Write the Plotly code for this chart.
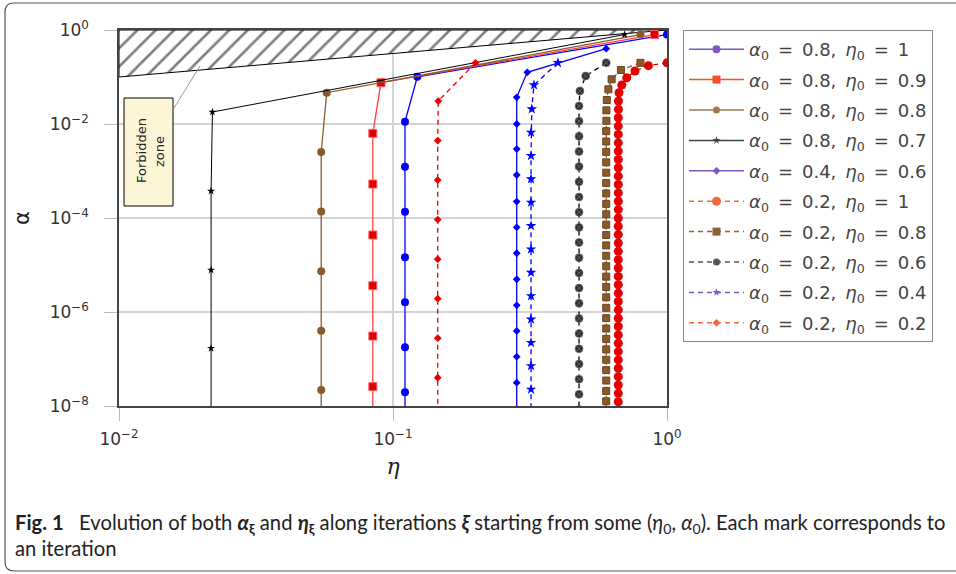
import plotly.graph_objects as go

# ---------------- data ----------------
eta1 = [1.0, 0.1227, 0.1106, 0.1106, 0.1106, 0.1106, 0.1106, 0.1106, 0.1106, 0.1106]
alpha1 = [0.8, 0.101, 1.12e-2, 1.23e-3, 1.36e-4, 1.46e-5, 1.61e-6, 1.77e-7, 1.95e-8, 2.15e-9]

eta2 = [0.9, 0.0904, 0.0844, 0.0844, 0.0844, 0.0844, 0.0844, 0.0844, 0.0844]
alpha2 = [0.8, 0.0757, 6.34e-3, 5.28e-4, 4.35e-5, 3.63e-6, 3.08e-7, 2.58e-8, 2.15e-9]

eta3 = [0.8, 0.0573, 0.0547, 0.0547, 0.0547, 0.0547, 0.0547, 0.0547]
alpha3 = [0.8, 0.0463, 2.54e-3, 1.37e-4, 7.35e-6, 4.0e-7, 2.19e-8, 1.19e-9]

eta4 = [0.7, 0.02193, 0.02168, 0.02168, 0.02168, 0.02168]
alpha4 = [0.8, 0.018, 3.75e-4, 7.83e-6, 1.69e-7, 3.5e-9]

eta5 = [0.6, 0.309, 0.2828, 0.2828, 0.2828, 0.2828, 0.2828, 0.2828, 0.2828,
        0.2828, 0.2828, 0.2828, 0.2828, 0.2828, 0.2828]
alpha5 = [0.4, 0.126, 0.037, 0.01, 2.94e-3, 8.22e-4, 2.24e-4, 6.34e-5, 1.78e-5,
          4.97e-6, 1.39e-6, 3.94e-7, 1.12e-7, 3.13e-8, 8.7e-9]

eta6 = [1.0, 0.855, 0.764, 0.713, 0.684, 0.668,
        0.665, 0.665, 0.664, 0.664, 0.664, 0.664, 0.664, 0.664, 0.664, 0.664,
        0.664, 0.664, 0.664, 0.664, 0.664, 0.664, 0.664, 0.664, 0.664, 0.664,
        0.664, 0.664, 0.664, 0.664, 0.664, 0.664, 0.664, 0.664, 0.664, 0.664,
        0.664, 0.664, 0.664, 0.664, 0.664, 0.664, 0.664, 0.664]
alpha6 = [0.2, 0.174, 0.134, 0.0966, 0.0676, 0.0463,
          0.0308, 0.0205, 0.0136, 9.04e-3, 6.00e-3, 3.98e-3, 2.65e-3, 1.76e-3,
          1.17e-3, 7.76e-4, 5.15e-4, 3.42e-4, 2.27e-4, 1.51e-4, 1.00e-4, 6.65e-5,
          4.43e-5, 2.94e-5, 1.95e-5, 1.29e-5, 8.61e-6, 5.71e-6, 3.79e-6, 2.52e-6,
          1.67e-6, 1.11e-6, 7.38e-7, 4.91e-7, 3.26e-7, 2.16e-7, 1.44e-7, 9.55e-8,
          6.34e-8, 4.21e-8, 2.80e-8, 1.86e-8, 1.23e-8, 8.2e-9]

eta7 = [0.8, 0.679, 0.628, 0.611, 0.603,
        0.601, 0.601, 0.600, 0.600, 0.600, 0.600, 0.600, 0.600, 0.600, 0.600,
        0.600, 0.600, 0.600, 0.600, 0.600, 0.600, 0.600, 0.600, 0.600, 0.600,
        0.600, 0.600, 0.600, 0.600, 0.600, 0.600, 0.600, 0.600, 0.600, 0.600]
alpha7 = [0.2, 0.141, 0.0893, 0.0547, 0.0324,
          0.0195, 0.0117, 7.05e-3, 4.24e-3, 2.55e-3, 1.53e-3, 9.20e-4, 5.53e-4,
          3.33e-4, 2.00e-4, 1.20e-4, 7.21e-5, 4.34e-5, 2.61e-5, 1.57e-5, 9.42e-6,
          5.66e-6, 3.40e-6, 2.05e-6, 1.23e-6, 7.40e-7, 4.45e-7, 2.67e-7, 1.60e-7,
          9.64e-8, 5.79e-8, 3.48e-8, 2.09e-8, 1.26e-8, 7.57e-9]

eta8 = [0.6, 0.505, 0.481, 0.4775,
        0.4775, 0.4775, 0.4775, 0.4775, 0.4775, 0.4775, 0.4775, 0.4775, 0.4775,
        0.4775, 0.4775, 0.4775, 0.4775, 0.4775, 0.4775, 0.4775, 0.4775, 0.4775,
        0.4775, 0.4775]
alpha8 = [0.2, 0.105, 0.0504, 0.0242,
          0.0115, 5.46e-3, 2.60e-3, 1.24e-3, 5.87e-4, 2.79e-4, 1.33e-4, 6.31e-5,
          3.01e-5, 1.43e-5, 6.79e-6, 3.23e-6, 1.53e-6, 7.31e-7, 3.48e-7, 1.65e-7,
          7.85e-8, 3.73e-8, 1.77e-8, 8.45e-9]

eta9 = [0.4, 0.327, 0.321, 0.319, 0.319, 0.319, 0.319, 0.319, 0.319, 0.319,
        0.319, 0.319, 0.319, 0.319, 0.319, 0.319]
alpha9 = [0.2, 0.0676, 0.0208, 6.64e-3, 2.11e-3, 6.73e-4, 2.14e-4, 6.82e-5,
          2.17e-5, 6.92e-6, 2.20e-6, 7.01e-7, 2.23e-7, 7.11e-8, 2.26e-8, 7.21e-9]

eta10 = [0.2, 0.1463, 0.1456, 0.1456, 0.1456, 0.1456, 0.1456, 0.1456, 0.1456, 0.1456]
alpha10 = [0.2, 0.0308, 4.45e-3, 6.41e-4, 9.25e-5, 1.33e-5, 1.92e-6, 2.77e-7, 4.00e-8, 5.77e-9]

# forbidden zone boundary (eta, alpha) polygon
forbid_eta = [0.01, 1.0, 0.01, 0.01]
forbid_alpha = [0.1, 1.0, 1.0, 0.1]

SP = "\u2002"  # en space, mimics TeX relation spacing
alpha0_vals = ["0.8", "0.8", "0.8", "0.8", "0.4", "0.2", "0.2", "0.2", "0.2", "0.2"]
eta0_vals = ["1", "0.9", "0.8", "0.7", "0.6", "1", "0.8", "0.6", "0.4", "0.2"]
legend_labels = [
    f"<i>α</i><sub>0</sub>{SP}={SP}{a},{SP}<i>η</i><sub>0</sub>{SP}={SP}{e}"
    for a, e in zip(alpha0_vals, eta0_vals)
]

y_tickvals = [1e-8, 1e-6, 1e-4, 1e-2, 1]
y_ticktext = ["10<sup>−8</sup>", "10<sup>−6</sup>", "10<sup>−4</sup>", "10<sup>−2</sup>", "10<sup>0</sup>"]
x_tickvals = [0.01, 0.1, 1]
x_ticktext = ["10<sup>−2</sup>", "10<sup>−1</sup>", "10<sup>0</sup>"]

# ---------------- styles ----------------
BLUE = "#0000ff"
RED = "#e60000"
BROWN = "#8b5a2b"
BLACK = "#000000"
DASH = "5px,4px"

series = [
    (eta1, alpha1, dict(color=BLUE, width=1.3), dict(symbol="circle", size=8, color=BLUE)),
    (eta2, alpha2, dict(color="#ff4040", width=1.3), dict(symbol="square", size=8, color="#dd0000", line=dict(color="#ff6060", width=1))),
    (eta3, alpha3, dict(color=BROWN, width=1.3), dict(symbol="circle", size=8, color=BROWN)),
    (eta4, alpha4, dict(color=BLACK, width=1), dict(symbol="star", size=6, color=BLACK)),
    (eta5, alpha5, dict(color=BLUE, width=1.3), dict(symbol="diamond", size=6, color=BLUE)),
    (eta6, alpha6, dict(color=RED, width=1.3, dash=DASH), dict(symbol="circle", size=9, color=RED)),
    (eta7, alpha7, dict(color=BROWN, width=1.3, dash=DASH), dict(symbol="square", size=7, color=BROWN, line=dict(color="#6b4420", width=1))),
    (eta8, alpha8, dict(color=BLACK, width=1.3, dash=DASH), dict(symbol="circle-x", size=8, color="#2e2e2e", line=dict(color="#777777", width=0.7))),
    (eta9, alpha9, dict(color=BLUE, width=1.3, dash=DASH), dict(symbol="star", size=8, color=BLUE)),
    (eta10, alpha10, dict(color=RED, width=1.3, dash=DASH), dict(symbol="diamond", size=6, color=RED)),
]

legend_styles = [
    ("#7e57c2", "solid", "circle", 8),
    ("#f4511e", "solid", "square", 8),
    ("#a07850", "solid", "circle", 7),
    ("#444444", "solid", "star", 6),
    ("#7e57c2", "solid", "diamond", 6),
    ("#f4693a", DASH, "circle", 9),
    ("#8d6239", DASH, "square", 8),
    ("#555555", DASH, "circle-x", 7),
    ("#7e57c2", DASH, "star", 6),
    ("#f4693a", DASH, "diamond", 6),
]

fig = go.Figure()

# forbidden zone hatch
fig.add_trace(go.Scatter(
    x=forbid_eta, y=forbid_alpha, mode="lines", fill="toself",
    line=dict(color="black", width=1),
    fillcolor="white",
    fillpattern=dict(shape="/", fgcolor="black", bgcolor="white", size=13, solidity=0.2),
    showlegend=False, hoverinfo="skip",
))

for ex, ay, ln, mk in series:
    fig.add_trace(go.Scatter(x=ex, y=ay, mode="lines+markers", line=ln, marker=mk,
                             showlegend=False))

for i, (lab, (col, dash, sym, sz)) in enumerate(zip(legend_labels, legend_styles)):
    fig.add_trace(go.Scatter(
        x=[None], y=[None], mode="lines+markers", name=lab, legendgroup=f"g{i}",
        line=dict(color=col, width=1.5, dash=dash),
        marker=dict(symbol=sym, size=sz, color=col),
    ))

# ---------------- layout ----------------
W, H = 956, 574
L, R, T, B = 119, 667, 30, 406
pw, ph = R - L, B - T


def px(x):
    return (x - L) / pw


def py(y):
    return (B - y) / ph


shapes = []
# forbidden zone label box
shapes.append(dict(type="rect", xref="paper", yref="paper",
                   x0=px(124), x1=px(173), y0=py(206), y1=py(98),
                   fillcolor="#fdf6d6", line=dict(color="black", width=1), layer="above"))
shapes.append(dict(type="line", xref="paper", yref="paper",
                   x0=px(174), y0=py(108), x1=px(200), y1=py(66),
                   line=dict(color="#999999", width=1), layer="above"))
# outer rounded frame
x0, x1 = px(5), px(965)
yt, yb = py(3), py(571)
rx, ry = 9 / pw, 9 / ph
shapes.append(dict(type="path", xref="paper", yref="paper", layer="below",
                   path=(f"M {x1},{yt} L {x0 + rx},{yt} Q {x0},{yt} {x0},{yt - ry} "
                         f"L {x0},{yb + ry} Q {x0},{yb} {x0 + rx},{yb} L {x1},{yb}"),
                   line=dict(color="#555555", width=1.2)))

annotations = [
    dict(xref="paper", yref="paper", x=px(141), y=py(151), text="Forbidden",
         showarrow=False, textangle=-90, xanchor="center", yanchor="middle",
         font=dict(family="DejaVu Sans", size=13, color="#222")),
    dict(xref="paper", yref="paper", x=px(159), y=py(152), text="zone",
         showarrow=False, textangle=-90, xanchor="center", yanchor="middle",
         font=dict(family="DejaVu Sans", size=13, color="#222")),
    dict(xref="paper", yref="paper", x=px(13), y=py(508), xanchor="left", yanchor="top",
         align="left", showarrow=False,
         font=dict(family="Lato, sans-serif", size=20.2, color="#222"),
         text=("<b>Fig. 1</b>   Evolution of both <b><i>α</i><sub>ξ</sub></b> and "
               "<b><i>η</i><sub>ξ</sub></b> along iterations <b><i>ξ</i></b> starting from some "
               "(<i>η</i><sub>0</sub>, <i>α</i><sub>0</sub>). Each mark corresponds to<br>an iteration")),
]

axis_common = dict(
    type="log", showline=True, mirror=True, linecolor="#444444", linewidth=1.5,
    showgrid=True, gridcolor="#d4d4d4", gridwidth=1.5,
    ticks="outside", ticklen=13, tickcolor="#bbbbbb", tickwidth=1,
    tickfont=dict(family="DejaVu Sans", size=17, color="#333"),
    zeroline=False,
)

fig.update_layout(
    width=W, height=H,
    margin=dict(l=L, r=W - R, t=T, b=H - B),
    paper_bgcolor="white", plot_bgcolor="white",
    xaxis=dict(axis_common, range=[-2, 0], tickvals=x_tickvals, ticktext=x_ticktext,
               ticklabelstandoff=4,
               title=dict(text="<i>η</i>", font=dict(family="DejaVu Serif", size=22, color="#222"),
                          standoff=10)),
    yaxis=dict(axis_common, range=[-8, 0], tickvals=y_tickvals, ticktext=y_ticktext,
               ticklabelstandoff=12,
               title=dict(text="α", font=dict(family="DejaVu Sans", size=21, color="#222"),
                          standoff=14)),
    legend=dict(x=px(683), y=1, xanchor="left", yanchor="top",
                bordercolor="#888888", borderwidth=1, bgcolor="white",
                font=dict(family="DejaVu Sans", size=18, color="#444"),
                itemwidth=55, tracegroupgap=4),
    shapes=shapes, annotations=annotations,
    showlegend=True,
)

fig.write_html("out.html", config={"displayModeBar": False},
               post_script="document.body.style.margin='0px';")
